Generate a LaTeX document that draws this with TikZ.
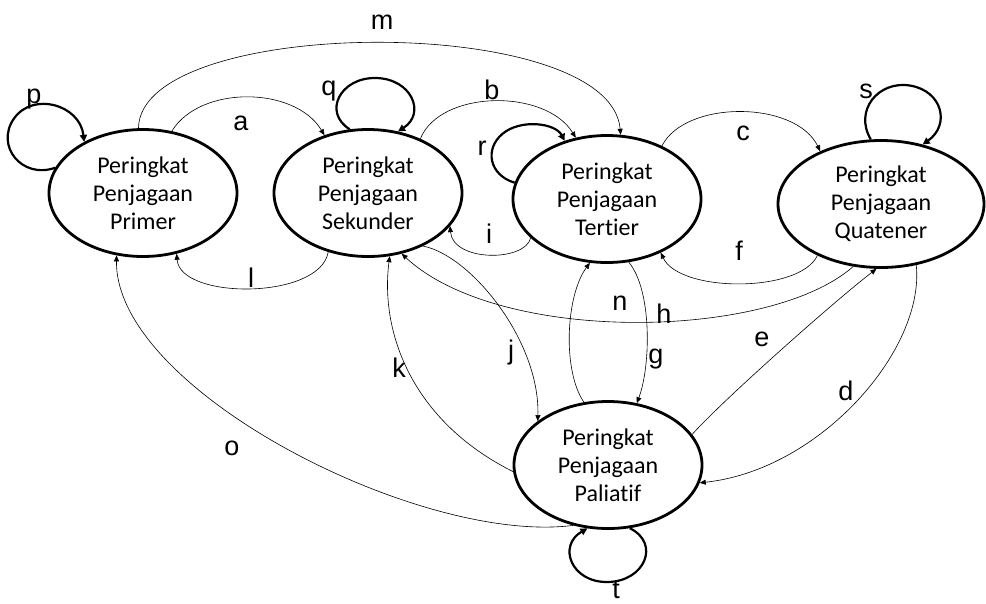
\documentclass[tikz,border=0pt]{standalone}
\usepackage{fontspec}
\setmainfont{Carlito}[Ligatures=NoCommon]
\newfontfamily\labfont{Liberation Sans}
\usetikzlibrary{arrows.meta,shapes.geometric}
\begin{document}
\begin{tikzpicture}[x=1pt,y=-1pt,
  state/.style={ellipse, draw, line width=2.8pt, minimum width=188pt, minimum height=127pt,
    inner sep=0pt, align=center, font=\fontsize{24}{28}\selectfont},
  conn/.style={line width=0.6pt, -{Triangle[length=6pt,width=5pt]}},
  selfloop/.style={line width=2.2pt, -{Triangle[length=7pt,width=7pt]}},
  lab/.style={font=\labfont\fontsize{27}{30}\selectfont, inner sep=0pt, anchor=base}
]
\path[use as bounding box, fill=white] (0,0) rectangle (986,603);

\node[state] (prim) at (143,193) {Peringkat\\Penjagaan\\Primer};
\node[state] (sek) at (368,193) {Peringkat\\Penjagaan\\Sekunder};
\node[state] (ter) at (607,199) {Peringkat\\Penjagaan\\Tertier};
\node[state, minimum width=206pt] (qua) at (881,204) {Peringkat\\Penjagaan\\Quatener};
\node[state] (pal) at (608,465) {Peringkat\\Penjagaan\\Paliatif};

% connectors
\draw[conn] (prim.65) .. controls (200,85) and (295,86) .. (sek.127);
\draw[conn] (prim.94) .. controls (140,15) and (610,12) .. (ter.78);
\draw[conn] (sek.46) .. controls (440,90) and (545,88) .. (ter.117);
\draw[conn] (ter.44.5) .. controls (685,100) and (795,100) .. (qua.139);
\draw[conn] (qua.219) .. controls (800,293) and (680,293) .. (ter.315);
\draw[conn] (ter.207) .. controls (525,262) and (453,262) .. (sek.338);
\draw[conn] (sek.236) .. controls (320,300) and (180,300) .. (prim.299);
\draw[conn] (qua.246) .. controls (770,340) and (500,345) .. (sek.299);
\draw[conn] (pal.20) .. controls (725,398) and (837,299) .. (qua.266);
\draw[conn] (qua.300) .. controls (925,350) and (820,470) .. (pal.349);
\draw[conn] (pal.111) .. controls (562,370) and (566,295) .. (ter.255);
\draw[conn] (ter.289) .. controls (652,290) and (651,365) .. (pal.65);
\draw[conn] (sek.316) .. controls (470,255) and (540,340) .. (pal.148);
\draw[conn] (pal.184) .. controls (410,420) and (380,330) .. (sek.289);
\draw[conn] (pal.240) .. controls (420,545) and (115,390) .. (prim.247);

% self loops
\draw[selfloop] (prim.164.5) .. controls (21.8,179.4) and (-5.1,145.7) .. (14,118.5)
  .. controls (33.1,91.3) and (80,104.8) .. (prim.139);
\draw[selfloop] (sek.106) .. controls (322.6,112.5) and (339.9,77.5) .. (375.7,78)
  .. controls (411.5,78.5) and (426.2,113.2) .. (sek.64.5);
\draw[selfloop] (ter.170) .. controls (489.1,175) and (484.3,149) .. (502.5,133.8)
  .. controls (520.7,118.6) and (555.3,123.1) .. (ter.126);
\draw[selfloop] (qua.99) .. controls (853.7,110.5) and (878.3,80.2) .. (910.3,85.6)
  .. controls (942.3,91) and (950.6,124.6) .. (qua.55);
\draw[selfloop] (pal.289.5) .. controls (660.6,543.3) and (645,581.2) .. (608,582)
  .. controls (571,582.8) and (557.4,545.6) .. (pal.252);

% labels
\node[lab] (lp) at (34,103) {p};
\node[lab] (la) at (241,130) {a};
\node[lab] (lm) at (382,29) {m};
\node[lab] (lq) at (329,95) {q};
\node[lab] (lb) at (492,99) {b};
\node[lab] (lr) at (482,155) {r};
\node[lab] (lc) at (743,140) {c};
\node[lab] (ls) at (866,98) {s};
\node[lab] (li) at (489,243) {i};
\node[lab] (ll) at (251,287) {l};
\node[lab] (lf) at (739,260) {f};
\node[lab] (ln) at (620,310) {n};
\node[lab] (lh) at (664,323) {h};
\node[lab] (lg) at (656,363) {g};
\node[lab] (le) at (762,346) {e};
\node[lab] (lj) at (511,359) {j};
\node[lab] (lk) at (399,377) {k};
\node[lab] (ld) at (846,400) {d};
\node[lab] (lo) at (232,455) {o};
\node[lab] (lt) at (616,598) {t};
\end{tikzpicture}
\end{document}
